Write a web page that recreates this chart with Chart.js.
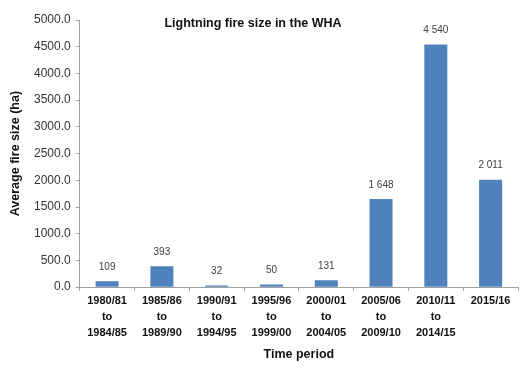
<!DOCTYPE html>
<html>
<head>
<meta charset="utf-8">
<script src="https://cdn.jsdelivr.net/npm/chart.js@4/dist/chart.umd.min.js"></script>
<style>
  body { margin: 0; background: #fff; }
  #wrap { width: 526px; height: 369px; }
</style>
</head>
<body>
<div id="wrap"><canvas id="chart" width="526" height="369"></canvas></div>
<script>
const periods = [
  ['1980/81', 'to', '1984/85'],
  ['1985/86', 'to', '1989/90'],
  ['1990/91', 'to', '1994/95'],
  ['1995/96', 'to', '1999/00'],
  ['2000/01', 'to', '2004/05'],
  ['2005/06', 'to', '2009/10'],
  ['2010/11', 'to', '2014/15'],
  ['2015/16']
];
const fireSize = [109, 393, 32, 50, 131, 1648, 4540, 2011];

const yMin = 0;
const yMax = 5000;
const yStep = 500;

// labels above bars, thousands split with a space
const barLabels = {
  id: 'barLabels',
  afterDatasetsDraw(chart) {
    const ctx = chart.ctx;
    const meta = chart.getDatasetMeta(0);
    ctx.save();
    ctx.font = '10px "Liberation Sans", Arial, sans-serif';
    ctx.fillStyle = '#404040';
    ctx.textAlign = 'center';
    ctx.textBaseline = 'bottom';
    meta.data.forEach((bar, i) => {
      const v = fireSize[i];
      const txt = v >= 1000 ? String(v).replace(/\B(?=(\d{3})+(?!\d))/g, ' ') : String(v);
      ctx.fillText(txt, bar.x, bar.y - 9);
    });
    ctx.restore();
  }
};

// title sits inside the plot area
const innerTitle = {
  id: 'innerTitle',
  afterDraw(chart) {
    const ctx = chart.ctx;
    ctx.save();
    ctx.font = 'bold 12.5px "Liberation Sans", Arial, sans-serif';
    ctx.fillStyle = '#111';
    ctx.textAlign = 'center';
    ctx.textBaseline = 'middle';
    ctx.fillText('Lightning fire size in the WHA', 253, chart.chartArea.top + 4);
    ctx.restore();
  }
};

new Chart(document.getElementById('chart'), {
  type: 'bar',
  data: {
    labels: periods,
    datasets: [{
      data: fireSize,
      backgroundColor: '#4f81bd',
      categoryPercentage: 1,
      barPercentage: 0.42
    }]
  },
  options: {
    responsive: false,
    animation: false,
    layout: { padding: { top: 20, right: 8, left: 4, bottom: 3 } },
    plugins: {
      legend: { display: false },
      tooltip: { enabled: false }
    },
    scales: {
      x: {
        grid: {
          display: true,
          drawOnChartArea: false,
          drawTicks: true,
          tickLength: 4,
          offset: true,
          color: '#a0a0a0'
        },
        border: { color: '#a0a0a0' },
        ticks: {
          color: '#111',
          font: { family: '"Liberation Sans", Arial, sans-serif', size: 11, weight: 'bold', lineHeight: 1.45 },
          maxRotation: 0,
          autoSkip: false,
          padding: 2
        },
        title: {
          display: true,
          text: 'Time period',
          color: '#111',
          font: { family: '"Liberation Sans", Arial, sans-serif', size: 12.5, weight: 'bold' },
          padding: { top: 4, bottom: 4 }
        }
      },
      y: {
        min: yMin,
        max: yMax,
        grid: {
          display: true,
          drawOnChartArea: false,
          drawTicks: true,
          tickLength: 4,
          color: '#a0a0a0'
        },
        border: { color: '#a0a0a0' },
        ticks: {
          stepSize: yStep,
          color: '#333',
          font: { family: '"Liberation Sans", Arial, sans-serif', size: 12 },
          padding: 5,
          callback: v => v.toFixed(1)
        },
        title: {
          display: true,
          text: 'Average fire size (ha)',
          color: '#111',
          font: { family: '"Liberation Sans", Arial, sans-serif', size: 12.5, weight: 'bold' },
          padding: { bottom: 6 }
        }
      }
    }
  },
  plugins: [barLabels, innerTitle]
});
</script>
</body>
</html>
